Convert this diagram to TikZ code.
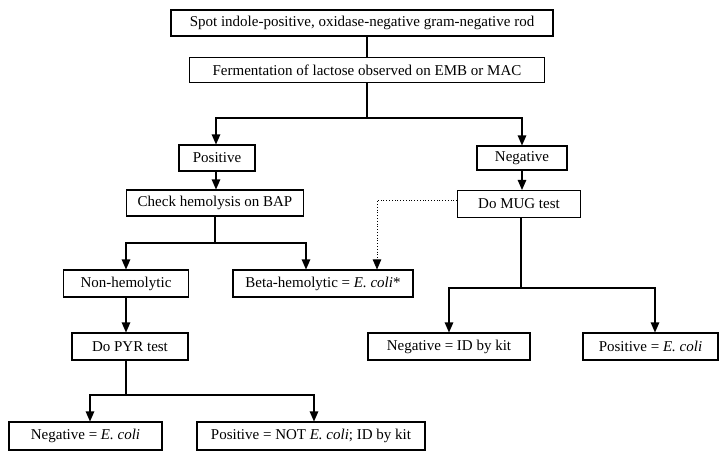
\documentclass[tikz,border=0pt]{standalone}
\usepackage{fontspec}
\setmainfont{Liberation Serif}
\usepackage{tikz}
\usetikzlibrary{arrows.meta,positioning,calc}

\begin{document}
\begin{tikzpicture}[x=1pt,y=-1pt]
  \tikzset{
    box/.style={draw=black, line width=1.1pt, fill=white, inner sep=0pt, minimum height=26pt, font=\fontsize{15}{17}\selectfont},
    link/.style={black, line width=1.1pt},
    arr/.style={-{Triangle[length=10pt,width=8.5pt]}, black, line width=1.1pt},
    hint/.style={-{Triangle[length=10pt,width=8.5pt]}, black, line width=0.8pt, dotted}
  }
  \useasboundingbox (0,0) rectangle (726,458);

  % Junction rows
  \def\yA{118}
  \def\yB{243}
  \def\yC{288}
  \def\yD{395}

  % Top boxes
  \node[box, minimum width=382pt] (spot) at (362,23) {Spot indole-positive, oxidase-negative gram-negative rod};
  \node[box, minimum width=355pt, minimum height=25pt] (ferm) at (367,70) {Fermentation of lactose observed on EMB or MAC};

  % Lactose branches
  \node[box, minimum width=76pt] (pos) at (217,158) {Positive};
  \node[box, minimum width=90pt, minimum height=24pt] (neg) at (522,158) {Negative};
  \node[box, minimum width=177pt] (check) at (215,203) {Check hemolysis on BAP};
  \node[box, minimum width=123pt, minimum height=27pt] (mug) at (519,204) {Do MUG test};

  % Hemolysis results
  \node[box, minimum width=125pt, minimum height=27pt] (nonhem) at (126,283.5) {Non-hemolytic};
  \node[box, minimum width=180pt, minimum height=27pt] (beta) at (323,283.5) {Beta-hemolytic = \textit{E. coli}*};
  \node[box, minimum width=116pt, minimum height=27pt] (pyr) at (130,346.5) {Do PYR test};

  % MUG results
  \node[box, minimum width=162pt, minimum height=27pt] (mugneg) at (449,346.5) {Negative = ID by kit};
  \node[box, minimum width=135pt, minimum height=27pt] (mugpos) at (650.5,346.5) {Positive = \textit{E. coli}};

  % PYR results
  \node[box, minimum width=153pt, minimum height=28pt] (pyrneg) at (85.5,436) {Negative = \textit{E. coli}};
  \node[box, minimum width=228pt, minimum height=28pt] (pyrpos) at (311,436) {Positive = NOT \textit{E. coli}; ID by kit};

  % Connectors
  \draw[link] (spot.south -| ferm.north) -- (ferm.north);
  \draw[arr] (ferm.south) -- (ferm.south |- 0,\yA) -| ([xshift=-1pt]pos.north);
  \draw[arr] (ferm.south) -- (ferm.south |- 0,\yA) -| (neg.north);
  \draw[arr] ([xshift=-1pt]pos.south) -- ([xshift=-1pt]pos.south |- check.north);
  \draw[arr] (neg.south) -- (neg.south |- mug.north);

  \draw[arr] (check.south) -- (check.south |- 0,\yB) -| (nonhem.north);
  \draw[arr] (check.south) -- (check.south |- 0,\yB) -| ([xshift=-17pt]beta.north);
  \draw[hint] ([yshift=4pt]mug.west) -| ([xshift=54pt]beta.north);

  \draw[arr] ([xshift=2pt]mug.south) -- ([xshift=2pt]mug.south |- 0,\yC) -| (mugneg.north);
  \draw[arr] ([xshift=2pt]mug.south) -- ([xshift=2pt]mug.south |- 0,\yC) -| ([xshift=4.5pt]mugpos.north);

  \draw[arr] (nonhem.south) -- (pyr.north -| nonhem.south);
  \draw[arr] ([xshift=-4pt]pyr.south) -- ([xshift=-4pt]pyr.south |- 0,\yD) -| ([xshift=4.5pt]pyrneg.north);
  \draw[arr] ([xshift=-4pt]pyr.south) -- ([xshift=-4pt]pyr.south |- 0,\yD) -| ([xshift=3pt]pyrpos.north);
\end{tikzpicture}
\end{document}
